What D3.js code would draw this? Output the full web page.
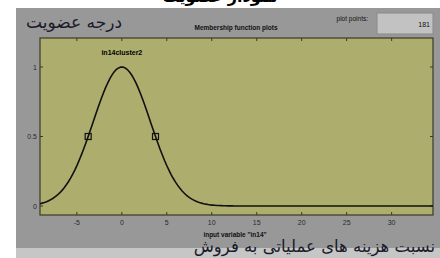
<!DOCTYPE html>
<html>
<head>
<meta charset="utf-8">
<script src="https://cdn.jsdelivr.net/npm/d3@7"></script>
<style>
  body { margin: 0; background: #fff; }
  svg { display: block; }
</style>
</head>
<body>
<div id="chart"></div>
<script>
// membership function data (gaussian)
const xDomain = [-9.1, 34.6];
const mfCenter = [0];
const mfSigma = [3.18];
const xTicks = [-5, 0, 5, 10, 15, 20, 25, 30];
const yTicks = [0, 0.5, 1];
const plotPoints = [181];
const mfNames = ["in14cluster2"];

const width = 440, height = 258;
const svg = d3.select("#chart").append("svg")
    .attr("width", width)
    .attr("height", height);

// cropped heading at the very top
svg.append("text")
    .attr("x", 220).attr("y", 2)
    .attr("text-anchor", "middle")
    .attr("font-family", "DejaVu Sans")
    .attr("font-weight", "bold")
    .attr("font-size", 16)
    .attr("fill", "#000")
    .text("نمودار عضویت");

// outer gray panel and bottom strip
svg.append("rect").attr("x", 16).attr("y", 8).attr("width", 424).attr("height", 240).attr("fill", "#989898");
svg.append("rect").attr("x", 16).attr("y", 248).attr("width", 424).attr("height", 10).attr("fill", "#c6c6c6");

const margin = { left: 40, right: 433, top: 38, bottom: 215 };
const x = d3.scaleLinear().domain(xDomain).range([margin.left, margin.right]);
const y = d3.scaleLinear().domain([0, 1]).range([206, 67]);

// plot area
svg.append("rect")
    .attr("x", margin.left).attr("y", margin.top)
    .attr("width", margin.right - margin.left)
    .attr("height", margin.bottom - margin.top)
    .attr("fill", "#adad6e")
    .attr("stroke", "#3a3a2a")
    .attr("stroke-width", 1.2);

const tickColor = "#3a3a2a";
const labelFont = "Liberation Sans";

// x ticks top and bottom
xTicks.forEach(t => {
    svg.append("line").attr("x1", x(t)).attr("x2", x(t)).attr("y1", margin.bottom).attr("y2", margin.bottom - 3).attr("stroke", tickColor);
    svg.append("line").attr("x1", x(t)).attr("x2", x(t)).attr("y1", margin.top).attr("y2", margin.top + 3).attr("stroke", tickColor);
    svg.append("text")
        .attr("x", x(t)).attr("y", 225)
        .attr("text-anchor", "middle")
        .attr("font-family", labelFont)
        .attr("font-size", 7)
        .attr("fill", "#2a2a2a")
        .text(t);
});

// y ticks left and right
yTicks.forEach(t => {
    svg.append("line").attr("x1", margin.left).attr("x2", margin.left + 3).attr("y1", y(t)).attr("y2", y(t)).attr("stroke", tickColor);
    svg.append("line").attr("x1", margin.right).attr("x2", margin.right - 3).attr("y1", y(t)).attr("y2", y(t)).attr("stroke", tickColor);
    svg.append("text")
        .attr("x", 37).attr("y", y(t) + 2.5)
        .attr("text-anchor", "end")
        .attr("font-family", labelFont)
        .attr("font-size", 7)
        .attr("fill", "#2a2a2a")
        .text(t);
});

// gaussian curve
const n = plotPoints[0];
const pts = d3.range(n).map(i => {
    const xv = xDomain[0] + (xDomain[1] - xDomain[0]) * i / (n - 1);
    return [xv, Math.exp(-Math.pow(xv - mfCenter[0], 2) / (2 * mfSigma[0] * mfSigma[0]))];
});
const line = d3.line().x(d => x(d[0])).y(d => y(d[1]));
svg.append("path")
    .attr("d", line(pts))
    .attr("fill", "none")
    .attr("stroke", "#111")
    .attr("stroke-width", 1.6);

// square markers at half height
const half = mfSigma[0] * Math.sqrt(2 * Math.log(2));
[mfCenter[0] - half, mfCenter[0] + half].forEach(xv => {
    svg.append("rect")
        .attr("x", x(xv) - 3).attr("y", y(0.5) - 3)
        .attr("width", 6).attr("height", 6)
        .attr("fill", "none")
        .attr("stroke", "#111")
        .attr("stroke-width", 1.2);
});

// mf name above peak
svg.append("text")
    .attr("x", x(mfCenter[0])).attr("y", 55)
    .attr("text-anchor", "middle")
    .attr("font-family", labelFont)
    .attr("font-weight", "bold")
    .attr("font-size", 7)
    .attr("fill", "#000")
    .text(mfNames[0]);

// title
svg.append("text")
    .attr("x", 236).attr("y", 30)
    .attr("text-anchor", "middle")
    .attr("font-family", labelFont)
    .attr("font-weight", "bold")
    .attr("font-size", 6.5)
    .attr("fill", "#111")
    .text("Membership function plots");

// plot points box
svg.append("text")
    .attr("x", 368).attr("y", 21)
    .attr("text-anchor", "end")
    .attr("font-family", labelFont)
    .attr("font-size", 6.5)
    .attr("fill", "#111")
    .text("plot points:");
svg.append("rect")
    .attr("x", 377).attr("y", 13).attr("width", 56).attr("height", 21)
    .attr("fill", "#c2c2c2")
    .attr("stroke", "#8a8a8a");
svg.append("text")
    .attr("x", 430).attr("y", 27)
    .attr("text-anchor", "end")
    .attr("font-family", labelFont)
    .attr("font-size", 7)
    .attr("fill", "#111")
    .text(plotPoints[0]);

// x axis label
svg.append("text")
    .attr("x", 235).attr("y", 237)
    .attr("text-anchor", "middle")
    .attr("font-family", labelFont)
    .attr("font-weight", "bold")
    .attr("font-size", 6.5)
    .attr("fill", "#111")
    .text('input variable "in14"');

// persian labels
svg.append("text")
    .attr("x", 74).attr("y", 28)
    .attr("text-anchor", "middle")
    .attr("font-family", "DejaVu Sans")
    .attr("font-size", 17)
    .attr("fill", "#1a1a2a")
    .text("درجه عضویت");
svg.append("text")
    .attr("x", 435).attr("y", 252)
    .attr("text-anchor", "end")
    .attr("font-family", "DejaVu Sans")
    .attr("font-size", 16.5)
    .attr("fill", "#1a1a2a")
    .text("نسبت هزینه های عملیاتی به فروش");
</script>
</body>
</html>
